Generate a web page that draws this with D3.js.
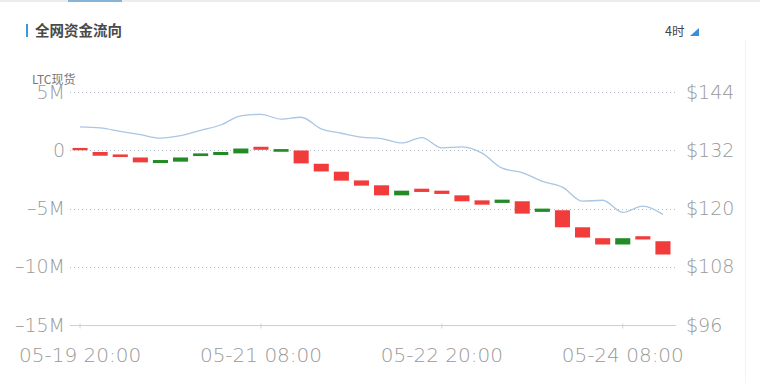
<!DOCTYPE html>
<html>
<head>
<meta charset="utf-8">
<script src="https://cdn.jsdelivr.net/npm/d3@7"></script>
<style>
  body { margin: 0; background: #fff; }
  svg { display: block; }
</style>
</head>
<body>
<div id="chart"></div>
<script>
// 4h periods
var periods = ['05-19 20:00','05-20 00:00','05-20 04:00','05-20 08:00','05-20 12:00','05-20 16:00',
  '05-20 20:00','05-21 00:00','05-21 04:00','05-21 08:00','05-21 12:00','05-21 16:00',
  '05-21 20:00','05-22 00:00','05-22 04:00','05-22 08:00','05-22 12:00','05-22 16:00',
  '05-22 20:00','05-23 00:00','05-23 04:00','05-23 08:00','05-23 12:00','05-23 16:00',
  '05-23 20:00','05-24 00:00','05-24 04:00','05-24 08:00','05-24 12:00','05-24 16:00'];
// cumulative net flow (M) at bar start / end
var flowOpen  = [0.2,-0.15,-0.36,-0.62,-1.10,-0.98,-0.50,-0.41,-0.27,0.30,-0.13,-0.02,-1.16,-1.84,-2.59,
  -3.01,-3.87,-3.30,-3.47,-3.87,-4.30,-4.52,-4.38,-5.29,-5.15,-6.61,-7.55,-8.09,-7.38,-7.81];
var flowClose = [0.0,-0.47,-0.58,-1.04,-0.84,-0.62,-0.27,-0.15,0.15,0.04,0.10,-1.13,-1.82,-2.61,-3.04,
  -3.87,-3.47,-3.58,-3.75,-4.38,-4.67,-4.24,-5.44,-5.01,-6.61,-7.49,-8.09,-7.55,-7.66,-8.95];
// LTC spot price
var price = [136.8,136.6,135.9,135.2,134.5,135.0,136.1,137.2,139.1,139.4,138.4,138.8,136.4,135.5,134.7,
  134.4,133.5,134.6,132.5,132.7,131.4,128.3,127.4,125.6,124.4,121.5,121.7,119.2,120.5,118.8];
var tickLabels = ['05-19 20:00','05-21 08:00','05-22 20:00','05-24 08:00'];
var flowTicks = [5,0,-5,-10,-15];
var priceTicks = [144,132,120,108,96];

function drawChart() {
  var W = 760, H = 383;
  var plotL = 70, plotR = 673, plotT = 92, plotB = 325;

  var svg = d3.select('#chart').append('svg')
    .attr('width', W).attr('height', H);

  // top strip
  svg.append('rect').attr('x', 0).attr('y', 0).attr('width', W).attr('height', 2).attr('fill', '#ececec');
  svg.append('rect').attr('x', 68).attr('y', 0).attr('width', 54).attr('height', 2).attr('fill', '#86b3d6');
  svg.append('line').attr('x1', 745.5).attr('x2', 745.5).attr('y1', 40).attr('y2', H)
    .attr('stroke', '#f3f3f3');

  // title
  svg.append('rect').attr('x', 26).attr('y', 24).attr('width', 2).attr('height', 13).attr('fill', '#3a9ad9');
  svg.append('text').attr('x', 35).attr('y', 36)
    .style('font-family', 'Noto Sans CJK SC').style('font-size', '14.5px').style('font-weight', 'bold')
    .attr('fill', '#4a4a4a').text('全网资金流向');
  svg.append('text').attr('x', 665).attr('y', 36)
    .style('font-family', 'Noto Sans CJK SC').style('font-size', '12.5px')
    .attr('fill', '#444').text('4时');
  svg.append('path').attr('d', 'M699,28L699,36L690,36Z').attr('fill', '#3a8ed8');
  svg.append('text').attr('x', 32).attr('y', 83.5)
    .style('font-family', 'Noto Sans CJK SC').style('font-size', '12px')
    .attr('fill', '#777').text('LTC现货');

  var x = d3.scaleBand().domain(periods).range([plotL, plotR]).paddingInner(0.25).paddingOuter(0.125);
  var y = d3.scaleLinear().domain([-15, 5]).range([plotB, plotT]);
  var y2 = d3.scaleLinear().domain([96, 144]).range([plotB, plotT]);
  var cx = function(d) { return x(d) + x.bandwidth() / 2; };

  // grid
  svg.selectAll('.grid').data(flowTicks.filter(function(d) { return d > -15; }))
    .enter().append('line')
    .attr('x1', 70).attr('x2', 676)
    .attr('y1', function(d) { return Math.round(y(d)) + 0.5; })
    .attr('y2', function(d) { return Math.round(y(d)) + 0.5; })
    .attr('stroke', '#b4bcc6').attr('stroke-dasharray', '1,3');

  // bottom axis
  var xAxis = svg.append('g').attr('transform', 'translate(0,' + (Math.round(plotB) + 0.5) + ')')
    .call(d3.axisBottom(x).tickValues(tickLabels).tickSize(3).tickPadding(19));
  xAxis.select('.domain').attr('d', 'M70,0H676').attr('stroke', '#ccd0d6');
  xAxis.selectAll('.tick line').attr('stroke', '#ccd0d6').attr('y1', -2);
  xAxis.selectAll('.tick text')
    .style('font-family', 'DejaVu Sans').style('font-weight', 200).style('font-size', '20px')
    .attr('fill', '#999');

  // left axis
  var yAxis = svg.append('g').attr('transform', 'translate(65,0)')
    .call(d3.axisLeft(y).tickValues(flowTicks).tickSize(0).tickPadding(0)
      .tickFormat(function(d) { return d === 0 ? '0' : d3.format('d')(d).replace('\u2212', '\u2013') + 'M'; }));
  yAxis.select('.domain').remove();
  yAxis.selectAll('text').style('font-family', 'DejaVu Sans').style('font-weight', 200)
    .style('font-size', '19px').attr('fill', '#999');

  // right axis
  var y2Axis = svg.append('g').attr('transform', 'translate(686,0)')
    .call(d3.axisRight(y2).tickValues(priceTicks).tickSize(0).tickPadding(0)
      .tickFormat(function(d) { return '$' + d; }));
  y2Axis.select('.domain').remove();
  y2Axis.selectAll('text').style('font-family', 'DejaVu Sans').style('font-weight', 200)
    .style('font-size', '19px').attr('fill', '#999');

  // price line
  var line = d3.line()
    .x(function(d, i) { return cx(periods[i]); })
    .y(function(d) { return y2(d); })
    .curve(d3.curveMonotoneX);
  svg.append('path').datum(price)
    .attr('d', line).attr('fill', 'none')
    .attr('stroke', '#a9c6e4').attr('stroke-width', 1.3);

  // bars
  svg.selectAll('.bar').data(periods).enter().append('rect')
    .attr('x', function(d) { return x(d); })
    .attr('width', x.bandwidth())
    .attr('y', function(d, i) { return y(Math.max(flowOpen[i], flowClose[i])); })
    .attr('height', function(d, i) { return Math.abs(y(flowOpen[i]) - y(flowClose[i])); })
    .attr('fill', function(d, i) { return flowClose[i] >= flowOpen[i] ? '#238b23' : '#f23c3c'; });
}
drawChart();
</script>
</body>
</html>
